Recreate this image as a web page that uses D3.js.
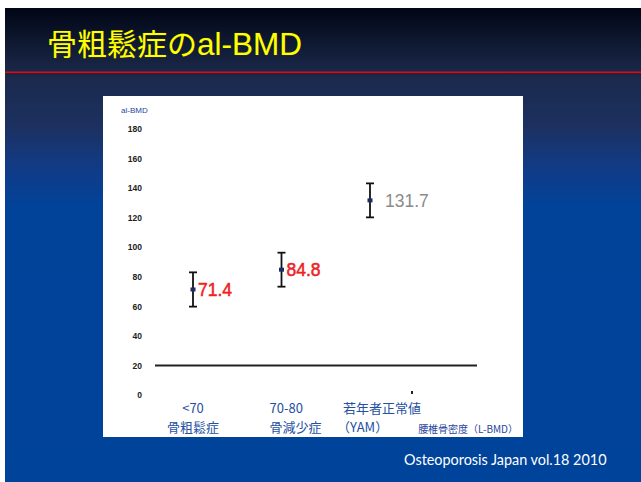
<!DOCTYPE html>
<html>
<head>
<meta charset="utf-8">
<script src="https://cdn.jsdelivr.net/npm/d3@7"></script>
<style>
  html, body { margin: 0; padding: 0; background: #fff; }
  svg { display: block; }
</style>
</head>
<body>
<svg id="chart" width="641" height="482"></svg>
<script>
// al-BMD by lumbar BMD group (mean ± SD)
const categories = ["<70", "70-80", "YAM"];
const categoryLines = [["<70", "骨粗鬆症"], ["70-80", "骨減少症"], ["若年者正常値", "（YAM）"]];
const meanValues = [71.4, 84.8, 131.7];
const sdValues = [11.6, 11.5, 11.5];
const valueColors = ["#ee2222", "#ee2222", "#8a8a8a"];
const yTicks = [0, 20, 40, 60, 80, 100, 120, 140, 160, 180];
const referenceValue = 20;

const svg = d3.select("#chart");
const W = 641, H = 482;

// slide background
const defs = svg.append("defs");
const grad = defs.append("linearGradient")
  .attr("id", "bg").attr("x1", 0).attr("y1", 0).attr("x2", 0).attr("y2", 1);
[[0, "#010615"], [0.135, "#1a2849"], [0.25, "#1c3161"], [0.33, "#123a84"],
 [0.42, "#02439a"], [1, "#00439a"]].forEach(([o, c]) =>
  grad.append("stop").attr("offset", o).attr("stop-color", c));

svg.append("rect").attr("width", W).attr("height", H).attr("fill", "#fff");
svg.append("rect").attr("x", 5).attr("y", 8).attr("width", W - 5).attr("height", H - 8)
  .attr("fill", "url(#bg)");

// title and rule
const title = svg.append("text")
  .attr("x", 47).attr("y", 55)
  .attr("fill", "#ffff00")
  .attr("stroke", "#3a3a10").attr("stroke-width", 0.6).attr("paint-order", "stroke");
title.append("tspan")
  .attr("font-family", "'Noto Sans CJK JP', sans-serif")
  .attr("font-size", 30)
  .text("骨粗鬆症の");
title.append("tspan")
  .attr("font-family", "'Liberation Sans', Arial, sans-serif")
  .attr("font-size", 31.5)
  .text("al-BMD");

svg.append("rect").attr("x", 5).attr("y", 73).attr("width", W - 5).attr("height", 1.2)
  .attr("fill", "#0a1020").attr("opacity", 0.6);
svg.append("rect").attr("x", 5).attr("y", 71.5).attr("width", W - 5).attr("height", 1.8)
  .attr("fill", "#cc1020");

// source note
svg.append("text")
  .attr("x", 404).attr("y", 465)
  .attr("font-family", "Lato, 'Open Sans', sans-serif")
  .attr("font-size", 14.4)
  .attr("fill", "#ffffff")
  .text("Osteoporosis Japan vol.18 2010");

// white chart panel
const panel = { x: 103, y: 96, w: 420, h: 341 };
svg.append("rect")
  .attr("x", panel.x).attr("y", panel.y).attr("width", panel.w).attr("height", panel.h)
  .attr("fill", "#ffffff");

// scales
const y = d3.scaleLinear().domain([0, 180]).range([395, 129]);
const x = d3.scalePoint().domain(categories).range([193, 370]);

// y tick labels
const yAxis = d3.axisLeft(y).tickValues(yTicks).tickSize(0).tickPadding(0)
  .tickFormat(d3.format("d"));
const gy = svg.append("g").attr("transform", "translate(142,0)").call(yAxis);
gy.select(".domain").remove();
gy.selectAll("text")
  .attr("font-family", "'Liberation Sans', Arial, sans-serif")
  .attr("font-size", 8.5).attr("font-weight", "bold").attr("fill", "#222");

svg.append("text")
  .attr("x", 121).attr("y", 113)
  .attr("font-family", "'Liberation Sans', Arial, sans-serif")
  .attr("font-size", 8).attr("fill", "#2a46a0")
  .text("al-BMD");

// reference line at 20
svg.append("line")
  .attr("x1", 155).attr("x2", 477)
  .attr("y1", y(referenceValue)).attr("y2", y(referenceValue))
  .attr("stroke", "#222").attr("stroke-width", 2);

// small tick near the right end of the baseline
svg.append("rect")
  .attr("x", 411).attr("y", y(0) - 4).attr("width", 2).attr("height", 3)
  .attr("fill", "#222");

// error bars
const data = categories.map((c, i) => ({ c, mean: meanValues[i], sd: sdValues[i], color: valueColors[i] }));
const capW = 4;
const bars = svg.append("g").selectAll("g.bar").data(data).join("g").attr("class", "bar");

bars.append("line")
  .attr("x1", d => x(d.c)).attr("x2", d => x(d.c))
  .attr("y1", d => y(d.mean + d.sd)).attr("y2", d => y(d.mean - d.sd))
  .attr("stroke", "#111").attr("stroke-width", 1.8);
bars.append("line")
  .attr("x1", d => x(d.c) - capW).attr("x2", d => x(d.c) + capW)
  .attr("y1", d => y(d.mean + d.sd)).attr("y2", d => y(d.mean + d.sd))
  .attr("stroke", "#111").attr("stroke-width", 1.8);
bars.append("line")
  .attr("x1", d => x(d.c) - capW).attr("x2", d => x(d.c) + capW)
  .attr("y1", d => y(d.mean - d.sd)).attr("y2", d => y(d.mean - d.sd))
  .attr("stroke", "#111").attr("stroke-width", 1.8);
bars.append("rect")
  .attr("x", d => x(d.c) - 2.5).attr("y", d => y(d.mean) - 2)
  .attr("width", 5).attr("height", 4)
  .attr("fill", "#1c2c64");

// value labels
bars.append("text")
  .attr("x", d => x(d.c) + (d.mean > 100 ? 15 : 5))
  .attr("y", d => y(d.mean))
  .attr("dy", "0.36em")
  .attr("font-family", "'Liberation Sans', Arial, sans-serif")
  .attr("font-size", 17.5)
  .attr("fill", d => d.color)
  .attr("stroke", d => d.color)
  .attr("stroke-width", d => d.mean > 100 ? 0 : 0.5)
  .text(d => d.mean.toFixed(1));

// category labels, one text per line
const labelOffset = [[0, 0], [-12, -12], [-27, -33]];
const labelAnchor = ["middle", "start", "start"];
const labelRows = [];
categories.forEach((c, i) => categoryLines[i].forEach((line, j) =>
  labelRows.push({ c, i, j, line })));
svg.append("g").selectAll("text").data(labelRows).join("text")
  .attr("x", d => x(d.c) + labelOffset[d.i][d.j])
  .attr("y", d => 412.5 + d.j * 19)
  .attr("text-anchor", d => labelAnchor[d.i])
  .attr("font-family", "'Noto Sans CJK JP', sans-serif")
  .attr("font-size", 13)
  .attr("fill", "#2450a2")
  .text(d => d.line);

// x axis title
svg.append("text")
  .attr("x", 518).attr("y", 433)
  .attr("text-anchor", "end")
  .attr("font-family", "'Noto Sans CJK JP', sans-serif")
  .attr("font-size", 10)
  .attr("fill", "#2a46a0")
  .text("腰椎骨密度（L-BMD）");
</script>
</body>
</html>
